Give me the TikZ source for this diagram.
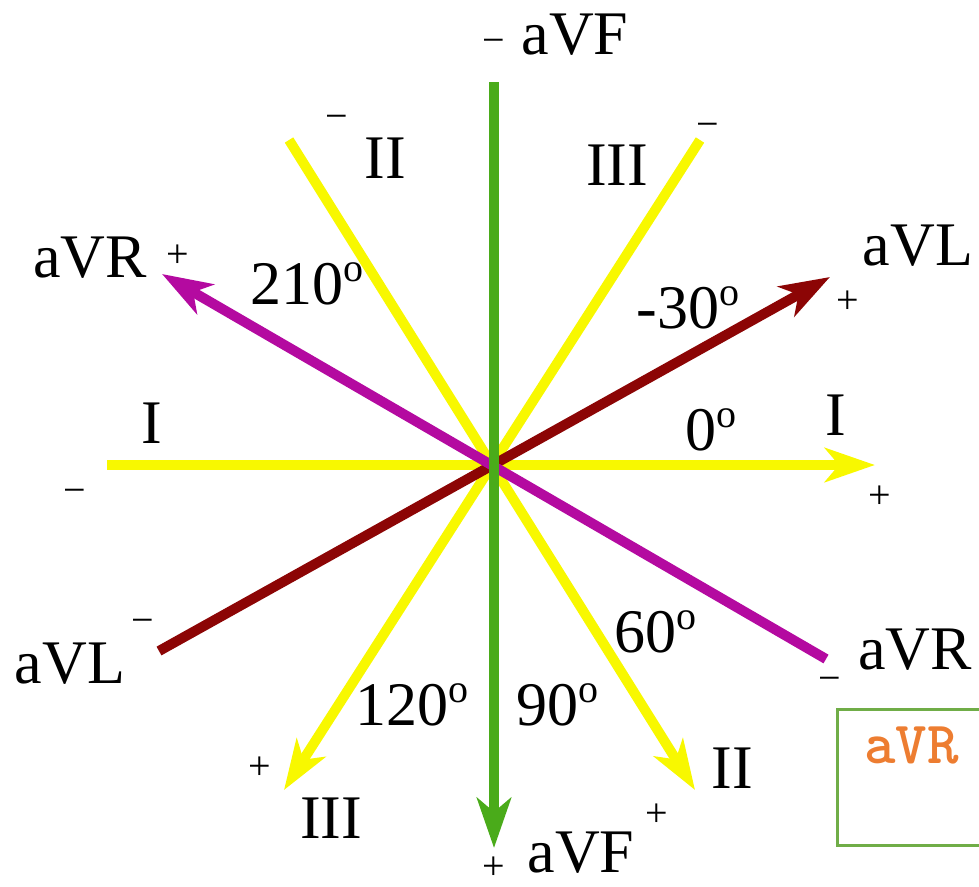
\documentclass[tikz,border=0pt]{standalone}
\usepackage{fontspec}
\setmainfont{Liberation Serif}
\usetikzlibrary{arrows.meta}
\definecolor{yel}{RGB}{248,248,0}
\definecolor{vfgreen}{RGB}{74,171,26}
\definecolor{vlred}{RGB}{140,5,5}
\definecolor{vrpurple}{RGB}{180,10,160}
\definecolor{boxgreen}{RGB}{112,173,71}
\definecolor{boxorange}{RGB}{237,125,49}
\newcommand{\degsup}{\raisebox{23pt}{\fontsize{40}{40}\selectfont o}}
\tikzset{
  lbl/.style={font=\fontsize{62}{62}\selectfont, inner sep=0pt},
  sgn/.style={font=\fontsize{40}{40}\selectfont, inner sep=0pt},
  ax/.style={line width=10pt},
  tipped/.style={-{Stealth[length=50pt,width=34pt,inset=14pt]}}
}
\begin{document}
\begin{tikzpicture}[x=1pt,y=-1pt]
\useasboundingbox (0,0) rectangle (979,886);
\clip (0,0) rectangle (979,886);
% endpoints
\coordinate (c) at (494,465);
\coordinate (Is) at (107,465);
\coordinate (Ie) at (875,465);
\coordinate (IIs) at (289,140);
\coordinate (IIe) at (695,790);
\coordinate (IIIs) at (700,140);
\coordinate (IIIe) at (284,790);
\coordinate (VLs) at (159,651);
\coordinate (VLe) at (830,277);
\coordinate (VRs) at (826,659);
\coordinate (VRe) at (162,274);
\coordinate (VFs) at (494,82);
\coordinate (VFe) at (494,848);
% axes
\draw[ax, yel, tipped] (Is) -- (Ie);
\draw[ax, yel, tipped] (IIs) -- (IIe);
\draw[ax, yel, tipped] (IIIs) -- (IIIe);
\draw[ax, vlred, tipped] (VLs) -- (VLe);
\draw[ax, vrpurple, tipped] (VRs) -- (VRe);
\draw[ax, vfgreen, tipped] (VFs) -- (VFe);
% labels
\node[lbl] (aVFtop) at (575,35) {aVF};
\node[sgn] (mVFtop) at (494,46) {\textminus};
\node[lbl] (IItop) at (385,158) {II};
\node[sgn] (mIItop) at (337,122) {\textminus};
\node[lbl] (IIItop) at (617,165) {III};
\node[sgn] (mIIItop) at (708,130) {\textminus};
\node[lbl] (aVRl) at (90,258) {aVR};
\node[sgn] (pVRl) at (178,256) {+};
\node[lbl] (d210) at (307,284) {210\degsup};
\node[lbl] (aVLr) at (918,246) {aVL};
\node[sgn] (pVLr) at (848,302) {+};
\node[lbl] (d30) at (688,308) {-30\degsup};
\node[lbl] (Il) at (152,423) {I};
\node[sgn] (mIl) at (75,496) {\textminus};
\node[lbl] (d0) at (711,430) {0\degsup};
\node[lbl] (Ir) at (836,415) {I};
\node[sgn] (pIr) at (880,497) {+};
\node[lbl] (aVLl) at (70,664) {aVL};
\node[sgn] (mVLl) at (143,626) {\textminus};
\node[lbl] (d60) at (655,632) {60\degsup};
\node[lbl] (aVRr) at (915,650) {aVR};
\node[sgn] (mVRr) at (830,684) {\textminus};
\node[lbl] (d120) at (412,705) {120\degsup};
\node[lbl] (d90) at (557,705) {90\degsup};
\node[lbl] (IIb) at (732,768) {II};
\node[sgn] (pIIIb) at (260,768) {+};
\node[lbl] (IIIb) at (331,818) {III};
\node[sgn] (pIIb) at (657,815) {+};
\node[lbl] (aVFb) at (581,853) {aVF};
\node[sgn] (pVFb) at (494,868) {+};
% box
\draw[boxgreen, line width=3pt] (837,709) rectangle (1100,845);
\node[anchor=base west, inner sep=0pt, text=boxorange, font=\ttfamily\bfseries\fontsize{60}{60}\selectfont] (boxtxt) at (864,763) {aVR :};
\end{tikzpicture}
\end{document}
